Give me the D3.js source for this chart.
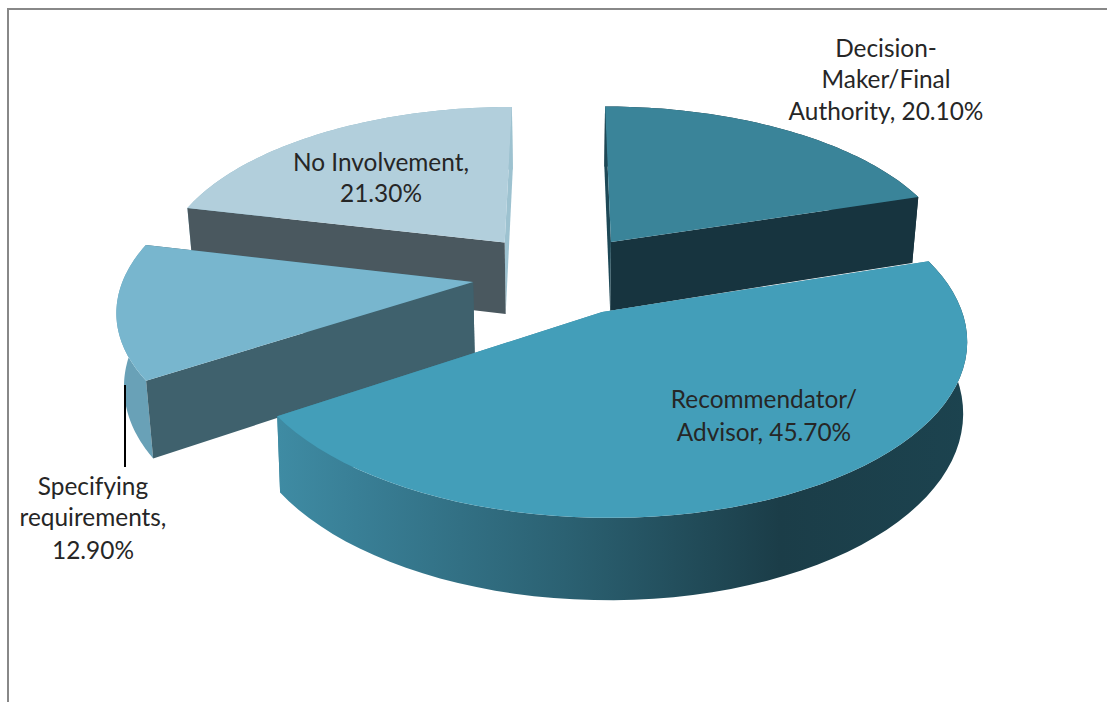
<!DOCTYPE html>
<html>
<head>
<meta charset="utf-8">
<script src="https://cdn.jsdelivr.net/npm/d3@7"></script>
<style>
html,body{margin:0;padding:0;background:#fff;overflow:hidden}
svg{display:block}
text{font-family:Lato,"Open Sans",sans-serif;font-size:24.4px;fill:#262626;text-anchor:middle}
</style>
</head>
<body>
<svg id="chart" width="1107" height="702"></svg>
<script>
// ---- data ----
const categories = ["Decision-Maker/Final Authority", "Recommendator/ Advisor", "Specifying requirements", "No Involvement"];
const values = [20.1, 45.7, 12.9, 21.3];
const labelLines = [
  ["Decision-", "Maker/Final", "Authority, 20.10%"],
  ["Recommendator/", "Advisor, 45.70%"],
  ["Specifying", "requirements,", "12.90%"],
  ["No Involvement,", "21.30%"]
];
const topColors   = ["#3A8499", "#439EB9", "#78B6CE", "#B2CFDC"];
const startColors = ["#1D4856", "#3C889F", "#3F616D", "#4A585F"];
const endColors   = ["#17343F", "#3C889F", "#3F616D", "#9DC2D0"];
const wallColors  = ["#17343F", "url(#bigWall)", "#69A1B7", "#8FB8C7"];
// slice pull-out from the pie centre, in plane units [sideways, towards viewer]
const explode = [[0.164, -0.2255], [0.131, 0.2], [-0.234, 0.024], [-0.15, -0.2215]];
const depths = [73, 70, 73.5, 76];
const tapers = [0.017, 0.01, 0.017, 0.017];
const paintOrder = [3, 0, 2, 1];
const labelX = [886, 764, 93, 381];
const labelY = [[57, 88, 120], [408, 441], [495, 526, 559], [171, 202]];

// ---- projection of the tilted pie ----
const R = 360, K = 175, persp = 0.15;
const X0 = 555, Y0 = 312, V0 = -0.2, vanishX = 563;

function project(X, V, dz, tp, z) {
  const s = 1 / (1 - persp * V);
  return [
    vanishX + (X - vanishX) * s * (1 - tp * z),
    Y0 + (K * V + dz * z) * s
  ];
}
function point(i, angle, r, z) {
  const X = X0 + (explode[i][0] + r * Math.sin(angle)) * R;
  const V = V0 + explode[i][1] - r * Math.cos(angle);
  return project(X, V, depths[i], tapers[i], z);
}

const svg = d3.select("#chart");
const defs = svg.append("defs");
const grad = defs.append("linearGradient").attr("id", "bigWall")
  .attr("gradientUnits", "userSpaceOnUse")
  .attr("x1", 273).attr("x2", 968).attr("y1", 0).attr("y2", 0);
[[0, "#3F8CA4"], [0.12, "#397F96"], [0.42, "#2B6172"], [0.73, "#1B3D48"], [1, "#1C434F"]]
  .forEach(([o, c]) => grad.append("stop").attr("offset", o).attr("stop-color", c));

const pie = d3.pie().sort(null).value(d => d)(values);
const line = d3.line();
const arcPts = (i, a0, a1, z) => d3.range(0, 61).map(t => point(i, a0 + (a1 - a0) * t / 60, 1, z));

const g = svg.append("g");
paintOrder.forEach(i => {
  const a0 = pie[i].startAngle, a1 = pie[i].endAngle;
  const sg = g.append("g").attr("class", "slice");
  const cut = (a, fill) => sg.append("path")
    .attr("d", line([point(i, a, 0, 0), point(i, a, 1, 0), point(i, a, 1, 1), point(i, a, 0, 1)]) + "Z")
    .attr("fill", fill);
  const wall = () => sg.append("path")
    .attr("d", line(arcPts(i, a0, a1, 0).concat(arcPts(i, a0, a1, 1).reverse())) + "Z")
    .attr("fill", wallColors[i]);
  if (i === 1) { cut(a0, startColors[i]); cut(a1, endColors[i]); wall(); }
  else { wall(); cut(a1, endColors[i]); cut(a0, startColors[i]); }
  sg.append("path")
    .attr("d", line([point(i, a0, 0, 0)].concat(arcPts(i, a0, a1, 0))) + "Z")
    .attr("fill", topColors[i]);
});

// frame
svg.append("line").attr("x1", 8).attr("x2", 1107).attr("y1", 9).attr("y2", 9)
  .attr("stroke", "#888").attr("stroke-width", 2);
svg.append("line").attr("x1", 8).attr("x2", 8).attr("y1", 8).attr("y2", 702)
  .attr("stroke", "#888").attr("stroke-width", 2);

// leader line
svg.append("line").attr("x1", 125).attr("x2", 125).attr("y1", 385).attr("y2", 467)
  .attr("stroke", "#000").attr("stroke-width", 2);

// labels
categories.forEach((c, i) => {
  labelLines[i].forEach((t, j) => {
    svg.append("text").attr("x", labelX[i]).attr("y", labelY[i][j]).text(t);
  });
});
</script>
</body>
</html>
